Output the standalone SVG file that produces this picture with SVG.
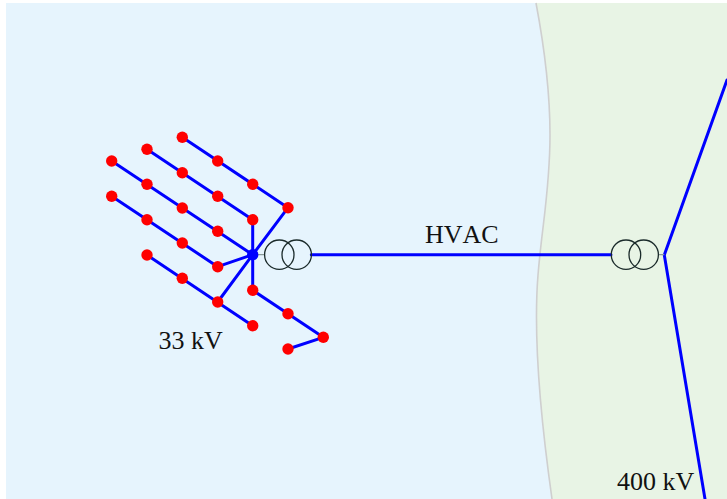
<svg xmlns="http://www.w3.org/2000/svg" width="727" height="499" viewBox="0 0 727 499">
<defs><style>
.line{fill:none;stroke:#0000ff;stroke-width:3;stroke-linecap:round;stroke-linejoin:round}
.stem{fill:none;stroke:#8a9a9a;stroke-width:1.2}
.red{fill:#ff0000}
.hub{fill:#0000ff}
.coil{fill:none;stroke:#1a2a2a;stroke-width:1.3}
text{font-family:"Liberation Serif","Times New Roman",serif;font-size:26px;fill:#111}
</style></defs>
<rect x="0" y="0" width="727" height="499" fill="#ffffff"/>
<g id="sea"><rect x="6" y="3" width="560" height="496" fill="#e6f4fd"/></g>
<g id="land"><path d="M536 3C543 40 550 90 550 135C550 190 542 225 538 275C534 325 538 400 552 499L727 499L727 3Z" fill="#e8f4e5" stroke="none"/>
<path d="M536 3C543 40 550 90 550 135C550 190 542 225 538 275C534 325 538 400 552 499" fill="none" stroke="#cfcfcf" stroke-width="1.6"/></g>
<g id="connectors">
<path class="line" d="M182.3 137.3L288 207.7L252.7 254.7"/>
<path class="line" d="M147 149.3L252.7 219.7L252.7 254.7"/>
<path class="line" d="M111.7 161L252.7 254.7"/>
<path class="line" d="M111.7 196.3L217.7 266.7L252.7 254.7"/>
<path class="line" d="M147 255L252.7 325.7"/>
<path class="line" d="M217.7 302L252.7 254.7"/>
<path class="line" d="M252.7 254.7L252.7 290.3L323.3 337.3L288 349"/>
<path class="line" d="M311.3 254.7L611 254.7"/>
<path class="line" d="M727 80L664.3 255L705 499"/>
<path class="stem" d="M252.7 254.7H264.7M658.7 254.7H664.3"/>
</g>
<g id="nodes-33kv" class="red">
<circle cx="182.3" cy="137.3" r="5.7"/><circle cx="217.7" cy="161" r="5.7"/><circle cx="252.7" cy="184.3" r="5.7"/><circle cx="288" cy="207.7" r="5.7"/>
<circle cx="147" cy="149.3" r="5.7"/><circle cx="182.3" cy="172.7" r="5.7"/><circle cx="217.7" cy="196.3" r="5.7"/><circle cx="252.7" cy="219.7" r="5.7"/>
<circle cx="111.7" cy="161" r="5.7"/><circle cx="147" cy="184.3" r="5.7"/><circle cx="182.3" cy="208" r="5.7"/><circle cx="217.7" cy="231.3" r="5.7"/>
<circle cx="111.7" cy="196.3" r="5.7"/><circle cx="147" cy="219.7" r="5.7"/><circle cx="182.3" cy="243" r="5.7"/><circle cx="217.7" cy="266.7" r="5.7"/>
<circle cx="147" cy="255" r="5.7"/><circle cx="182.3" cy="278.3" r="5.7"/><circle cx="217.7" cy="302" r="5.7"/><circle cx="252.7" cy="325.7" r="5.7"/>
<circle cx="252.7" cy="290.3" r="5.7"/><circle cx="288" cy="313.7" r="5.7"/><circle cx="323.3" cy="337.3" r="5.7"/><circle cx="288" cy="349" r="5.7"/>
</g>
<g id="hub"><circle class="hub" cx="252.7" cy="254.7" r="5.7"/></g>
<g id="transformer-offshore"><circle class="coil" cx="279.3" cy="254.7" r="14.7"/><circle class="coil" cx="296.7" cy="254.7" r="14.7"/></g>
<g id="transformer-onshore"><circle class="coil" cx="626" cy="254.7" r="14.7"/><circle class="coil" cx="643.7" cy="254.7" r="14.7"/></g>
<g id="labels">
<text x="158.500" y="349">33 kV</text>
<text x="425" y="243" style="font-kerning:none">HVAC</text>
<text x="617" y="490">400 kV</text>
</g>
</svg>
